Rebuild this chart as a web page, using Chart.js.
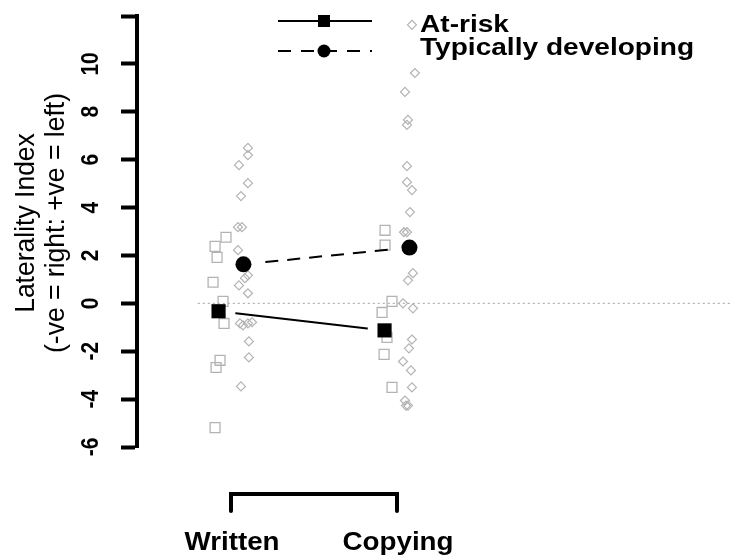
<!DOCTYPE html>
<html>
<head>
<meta charset="utf-8">
<script src="https://cdn.jsdelivr.net/npm/chart.js@4.4.1/dist/chart.umd.min.js"></script>
<style>
  html, body { margin: 0; padding: 0; background: #fff; }
  canvas { display: block; }
</style>
</head>
<body>
<canvas id="c" width="731" height="556"></canvas>
<script>
// Tasks on the x axis and the two participant groups
const tasks = ['Written', 'Copying'];
const groups = ['At-risk', 'Typically developing'];
const yTickLabels = [-6, -4, -2, 0, 2, 4, 6, 8, 10];

// Group means per task
const meanAtRisk = [-0.33, -1.13];
const meanTypical = [1.63, 2.33];

// Individual laterality indices, with the horizontal jitter used to spread them
const writtenAtRisk = [2.76, 2.38, 1.92, 0.88, 0.08, -0.84, -2.38, -2.68, -5.19];
const writtenAtRiskJitter = [-0.030, -0.096, -0.084, -0.108, -0.048, -0.042, -0.066, -0.090, -0.096];

const copyingAtRisk = [3.05, 2.43, 0.08, -0.38, -1.42, -2.13, -3.51];
const copyingAtRiskJitter = [-0.072, -0.072, -0.030, -0.090, -0.060, -0.078, -0.030];

const writtenTypical = [6.49, 6.19, 5.77, 5.02, 4.48, 3.18, 3.18, 2.22, 1.17, 1.05, 0.75, 0.42,
                        -0.79, -0.84, -0.84, -0.92, -1.59, -2.26, -3.47];
const writtenTypicalJitter = [0.102, 0.102, 0.048, 0.102, 0.060, 0.042, 0.066, 0.042, 0.102, 0.084, 0.048, 0.102,
                              0.127, 0.054, 0.102, 0.072, 0.108, 0.108, 0.060];

const copyingTypical = [11.63, 9.62, 8.83, 7.66, 7.45, 5.73, 5.06, 4.73, 3.81, 2.97, 2.97, 1.26, 0.96,
                        0.0, -0.21, -1.51, -1.88, -2.43, -2.80, -3.51, -4.06, -4.27, -4.27];
const copyingTypicalJitter = [0.090, 0.108, 0.048, 0.066, 0.060, 0.060, 0.060, 0.090, 0.078, 0.042, 0.060, 0.096, 0.066,
                              0.036, 0.096, 0.090, 0.072, 0.036, 0.084, 0.090, 0.048, 0.066, 0.054];

const DODGE = 0.075;          // offset of each group's mean from the task position
const GREY = '#b3b3b3';
const TASK_SPACING = 166;     // pixels between the two task positions
const FIRST_TASK_PX = 231;    // pixel column of the first task

const toPoints = (vals, jit, pos) => vals.map((v, i) => ({ x: pos + jit[i], y: v }));
const meanPoints = (vals, shift) => vals.map((v, i) => ({ x: i + 1 + shift, y: v }));

const atRiskRaw = toPoints(writtenAtRisk, writtenAtRiskJitter, 1)
  .concat(toPoints(copyingAtRisk, copyingAtRiskJitter, 2));
const typicalRaw = toPoints(writtenTypical, writtenTypicalJitter, 1)
  .concat(toPoints(copyingTypical, copyingTypicalJitter, 2));

function drawText(ctx, str, x, y, o) {
  ctx.save();
  ctx.translate(x, y);
  ctx.scale(o.sx || 1, 1);
  if (o.rot) ctx.rotate(o.rot);
  ctx.font = o.font;
  ctx.textAlign = o.align || 'left';
  ctx.textBaseline = 'alphabetic';
  ctx.fillStyle = '#000';
  ctx.fillText(str, 0, 0);
  ctx.restore();
}

// Fits the x range to the laid-out plot area so the tasks sit at fixed columns
const xRangeFit = {
  id: 'xRangeFit',
  afterLayout(chart) {
    const xs = chart.scales.x;
    const area = chart.chartArea;
    xs.min = 1 - (FIRST_TASK_PX - area.left) / TASK_SPACING;
    xs.max = xs.min + (area.right - area.left) / TASK_SPACING;
    xs.configure();
  }
};

// Leaves a gap in the connecting lines around each mean marker
const lineGaps = {
  id: 'lineGaps',
  beforeDatasetDraw(chart, args) {
    const ds = chart.data.datasets[args.index];
    if (!ds.gapRadius) return;
    const ctx = chart.ctx;
    ctx.save();
    ctx.beginPath();
    ctx.rect(0, 0, chart.width, chart.height);
    args.meta.data.forEach(pt => {
      ctx.moveTo(pt.x + ds.gapRadius, pt.y);
      ctx.arc(pt.x, pt.y, ds.gapRadius, 0, Math.PI * 2);
    });
    ctx.clip('evenodd');
  },
  afterDatasetDraw(chart, args) {
    const ds = chart.data.datasets[args.index];
    if (ds.gapRadius) chart.ctx.restore();
  }
};

// Axis labels, task bracket and legend
const annotations = {
  id: 'annotations',
  afterDraw(chart) {
    const ctx = chart.ctx;
    const xs = chart.scales.x, ys = chart.scales.y;

    // rotated y tick labels
    yTickLabels.forEach(v => {
      drawText(ctx, String(v), 98, ys.getPixelForValue(v),
        { font: 'bold 21px "Liberation Sans", Arial, sans-serif', sx: 1.15, rot: -Math.PI / 2, align: 'center' });
    });

    // y axis title
    const yMid = 223;
    const tf = { font: '26.5px "Liberation Sans", Arial, sans-serif', sx: 1.03, rot: -Math.PI / 2, align: 'center' };
    drawText(ctx, 'Laterality Index', 34, yMid, tf);
    drawText(ctx, '(-ve = right: +ve = left)', 64, yMid, tf);

    // bracket spanning the two tasks
    const x1 = xs.getPixelForValue(1), x2 = xs.getPixelForValue(2);
    ctx.save();
    ctx.strokeStyle = '#000';
    ctx.lineWidth = 4;
    ctx.lineCap = 'round';
    ctx.lineJoin = 'miter';
    ctx.beginPath();
    ctx.moveTo(x1, 511);
    ctx.lineTo(x1, 494);
    ctx.lineTo(x2, 494);
    ctx.lineTo(x2, 511);
    ctx.stroke();
    ctx.restore();
    tasks.forEach((t, i) => {
      drawText(ctx, t, xs.getPixelForValue(i + 1) + 1, 549.5,
        { font: 'bold 25px "Liberation Sans", Arial, sans-serif', sx: 1.11, align: 'center' });
    });

    // legend
    ctx.save();
    ctx.strokeStyle = '#000';
    ctx.fillStyle = '#000';
    ctx.lineWidth = 2;
    ctx.beginPath();
    ctx.moveTo(278, 21); ctx.lineTo(372, 21);
    ctx.stroke();
    ctx.fillRect(318, 15, 12, 12);
    ctx.setLineDash([13, 10]);
    ctx.beginPath();
    ctx.moveTo(278, 51); ctx.lineTo(372, 51);
    ctx.stroke();
    ctx.setLineDash([]);
    ctx.beginPath();
    ctx.arc(324, 51, 6.5, 0, Math.PI * 2);
    ctx.fill();
    ctx.restore();
    const lf = { font: 'bold 24px "Liberation Sans", Arial, sans-serif', sx: 1.17 };
    drawText(ctx, groups[0], 420, 31.5, lf);
    drawText(ctx, groups[1], 420, 55, lf);
  }
};

new Chart(document.getElementById('c'), {
  data: {
    datasets: [
      {
        type: 'line', label: groups[0] + ' mean line',
        data: meanPoints(meanAtRisk, -DODGE),
        borderColor: '#000', borderWidth: 2, pointRadius: 0,
        gapRadius: 17, order: 1
      },
      {
        type: 'line', label: groups[1] + ' mean line',
        data: meanPoints(meanTypical, DODGE),
        borderColor: '#000', borderWidth: 2, borderDash: [13, 9], pointRadius: 0,
        gapRadius: 17, order: 1
      },
      {
        type: 'scatter', label: groups[0] + ' mean',
        data: meanPoints(meanAtRisk, -DODGE),
        pointStyle: 'rect', pointRadius: 10,
        backgroundColor: '#000', borderColor: '#000', borderWidth: 0, order: 0
      },
      {
        type: 'scatter', label: groups[1] + ' mean',
        data: meanPoints(meanTypical, DODGE),
        pointStyle: 'circle', pointRadius: 8,
        backgroundColor: '#000', borderColor: '#000', borderWidth: 0, order: 0
      },
      {
        type: 'scatter', label: groups[0],
        data: atRiskRaw,
        pointStyle: 'rect', pointRadius: 7,
        backgroundColor: 'rgba(0,0,0,0)', borderColor: GREY, borderWidth: 1.3, order: 2
      },
      {
        type: 'scatter', label: groups[1],
        data: typicalRaw,
        pointStyle: 'rectRot', pointRadius: 4.5,
        backgroundColor: 'rgba(0,0,0,0)', borderColor: GREY, borderWidth: 1.2, order: 2
      },
      {
        type: 'line', label: 'zero',
        data: [{ x: 0.8, y: 0 }, { x: 4.01, y: 0 }],
        borderColor: '#a0a0a0', borderWidth: 1, borderDash: [2, 3], pointRadius: 0,
        clip: false, order: 3
      }
    ]
  },
  options: {
    responsive: false,
    animation: false,
    devicePixelRatio: 1,
    layout: { padding: { left: 121, top: 16, bottom: 109, right: 0 } },
    plugins: { legend: { display: false }, tooltip: { enabled: false } },
    scales: {
      x: { type: 'linear', display: false, min: 0.43, max: 4.01 },
      y: {
        type: 'linear', position: 'left', min: -6, max: 12,
        ticks: { display: false, stepSize: 2 },
        grid: { drawOnChartArea: false, drawTicks: true, tickLength: 16, tickWidth: 4, color: '#000' },
        border: { display: true, width: 4, color: '#000' }
      }
    }
  },
  plugins: [xRangeFit, lineGaps, annotations]
});
</script>
</body>
</html>
